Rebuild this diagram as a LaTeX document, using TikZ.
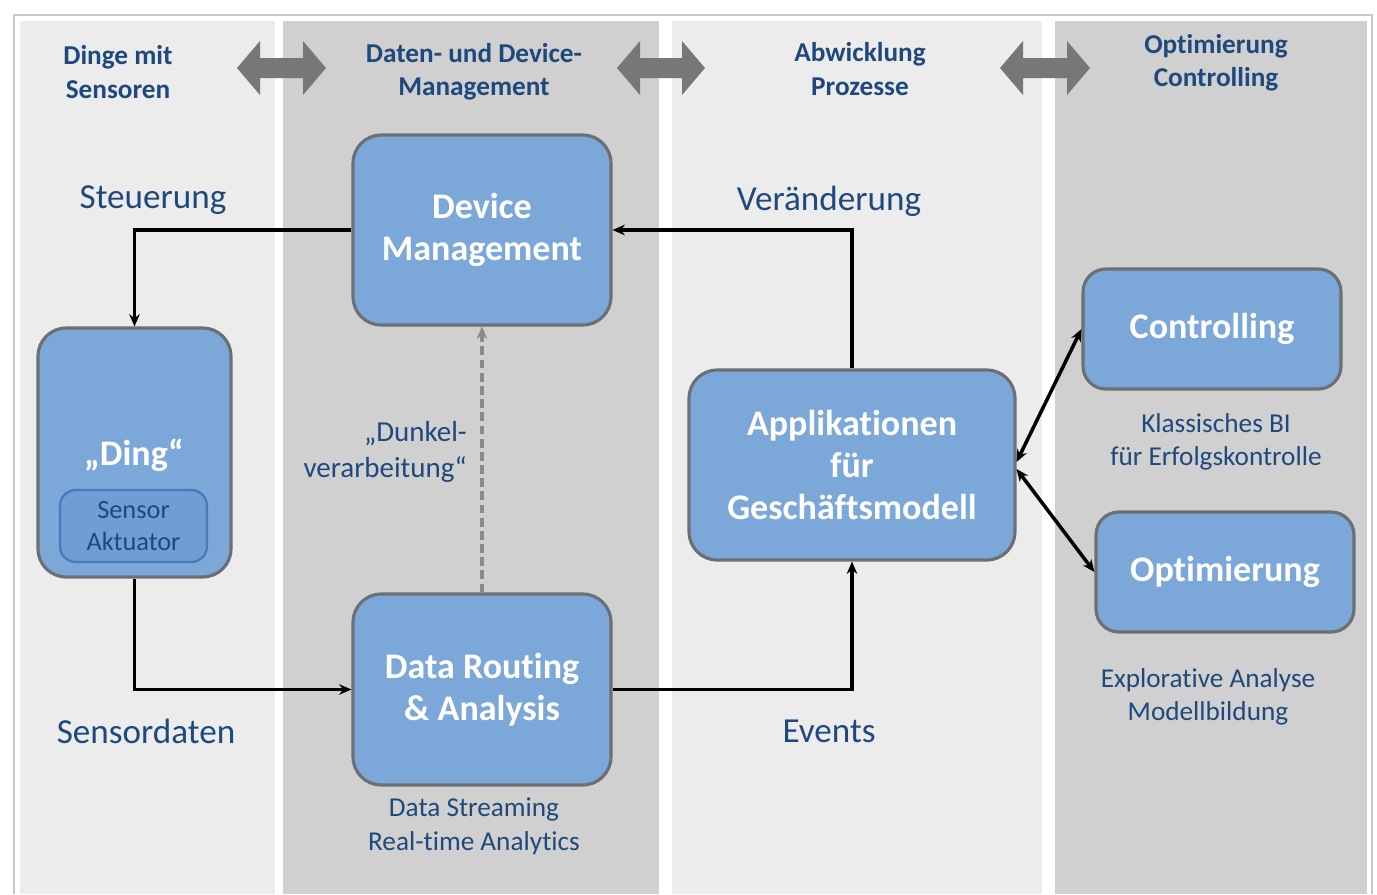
\documentclass[tikz,border=0pt]{standalone}
\usepackage{fontspec}
\setmainfont[Ligatures=NoCommon]{Carlito}
\usetikzlibrary{positioning, arrows.meta, calc}

\definecolor{laneLight}{RGB}{235,236,235}
\definecolor{laneDark}{RGB}{208,208,208}
\definecolor{boxBlue}{RGB}{124,167,217}
\definecolor{boxEdge}{RGB}{108,112,117}
\definecolor{sensBlue}{RGB}{112,157,212}
\definecolor{sensEdge}{RGB}{72,122,186}
\definecolor{txtBlue}{RGB}{31,73,125}
\definecolor{arrGray}{RGB}{118,120,120}
\definecolor{dashGray}{RGB}{138,138,138}
\definecolor{frameGray}{RGB}{200,200,200}

\begin{document}
\begin{tikzpicture}[x=0.02cm, y=-0.02cm, >=Stealth,
  box/.style={draw=boxEdge, line width=1.8pt, fill=boxBlue, rounded corners=16pt,
    text=white, align=center, font=\fontsize{20.5}{24}\selectfont\bfseries},
  header/.style={text=txtBlue, align=center, font=\fontsize{15.5}{19}\selectfont\bfseries},
  flowlabel/.style={text=txtBlue, font=\fontsize{20}{23}\selectfont},
  note/.style={text=txtBlue, align=center, font=\fontsize{15.5}{19.2}\selectfont},
  link/.style={line width=2pt, -{Stealth[length=7pt, width=6pt]}},
  biarrow/.style={line width=2pt, {Stealth[length=7pt, width=6pt]}-{Stealth[length=7pt, width=6pt]}}]

  \useasboundingbox (0,0) rectangle (1377,894);
  \fill[white] (0,0) rectangle (1377,894);

  % Frame and the four lanes
  \draw[frameGray, line width=0.6pt] (14,894) -- (14,15) -- (1372,15) -- (1372,894);
  \fill[laneLight] (20,21) rectangle (275,894);
  \fill[laneDark]  (283,21) rectangle (659,894);
  \fill[laneLight] (672,21) rectangle (1042,894);
  \fill[laneDark]  (1055,21) rectangle (1367,894);

  % Lane headers
  \node[header] (h1) at (118,72)  {Dinge mit\\Sensoren};
  \node[header] (h2) at (474,72)  {Daten- und Device-\\Management};
  \node[header] (h3) at (860,69)  {Abwicklung\\Prozesse};
  \node[header] (h4) at (1216,63) {Optimierung\\Controlling};

  % Gray double arrows between the headers
  \foreach \xa/\xb in {237/326, 617/705, 1000/1090}
    \fill[arrGray] (\xa,68) -- (\xa+23,41) -- (\xa+23,58) -- (\xb-23,58) -- (\xb-23,41)
      -- (\xb,68) -- (\xb-23,95) -- (\xb-23,78) -- (\xa+23,78) -- (\xa+23,95) -- cycle;

  % Boxes
  \node[box, minimum width=5.16cm, minimum height=3.8cm] (devmgmt) at (482,230) {Device\\Management};
  \node[box, minimum width=3.86cm, minimum height=4.98cm] (ding) at (134.5,452.5) {};
  \node[text=white, font=\fontsize{20.5}{24}\selectfont\bfseries] (dinglabel) at (134,455) {„Ding“};
  \node[draw=sensEdge, line width=1.3pt, fill=sensBlue, rounded corners=9pt,
    minimum width=2.94cm, minimum height=1.44cm, align=center, text=txtBlue,
    font=\fontsize{15}{18.7}\selectfont] (sensor) at (133.5,526) {Sensor\\Aktuator};
  \node[box, minimum width=5.16cm, minimum height=3.82cm] (routing) at (482,689.5) {Data Routing\\\& Analysis};
  \node[box, minimum width=6.52cm, minimum height=3.8cm] (apps) at (852,465) {Applikationen\\für\\Geschäftsmodell};
  \node[box, rounded corners=13pt, minimum width=5.16cm, minimum height=2.4cm] (controlling) at (1212,329) {Controlling};
  \node[box, rounded corners=13pt, minimum width=5.16cm, minimum height=2.4cm] (optim) at (1225,572) {Optimierung};

  % Flow labels and notes
  \node[flowlabel] (steuer) at (153,200) {Steuerung};
  \node[flowlabel] (veraend) at (829,201) {Veränderung};
  \node[flowlabel] (sensdat) at (146,731) {Sensordaten};
  \node[flowlabel] (events) at (829,731) {Events};
  \node[text=txtBlue, align=right, anchor=east, font=\fontsize{16.5}{20.4}\selectfont] (dunkel) at (473,452) {„Dunkel-\\verarbeitung“};
  \node[note] (streaming) at (474,826) {Data Streaming\\Real-time Analytics};
  \node[note] (classicbi) at (1216,442) {Klassisches BI\\für Erfolgskontrolle};
  \node[note] (explore) at (1208,697) {Explorative Analyse\\Modellbildung};

  % Connectors
  \draw[link] (devmgmt.west) -| (ding.north);
  \draw[link] (ding.south) |- (routing.west);
  \draw[link] (routing.east) -| (apps.south);
  \draw[link] (apps.north) |- (devmgmt.east);
  \draw[dashGray, line width=2.2pt, dash pattern=on 5pt off 2.5pt, -{Stealth[length=7pt, width=6pt]}]
    (routing.north) -- (devmgmt.south);
  \draw[biarrow] ($(apps.east)+(0,-3)$) -- (controlling.west);
  \draw[biarrow] ($(apps.east)+(0,4)$) -- (optim.west);

\end{tikzpicture}
\end{document}
